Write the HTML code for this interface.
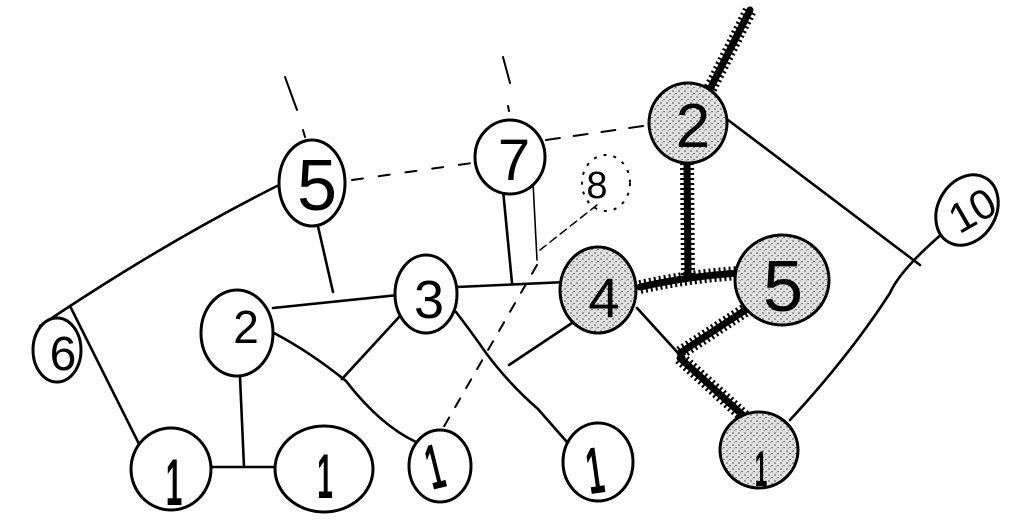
<!DOCTYPE html>
<html><head><meta charset="utf-8"><style>
html,body{margin:0;padding:0;background:#fff;}
svg{display:block;}
text{font-family:"Liberation Sans",sans-serif;fill:#000;text-anchor:middle;}
</style></head><body>
<svg width="1023" height="529" viewBox="0 0 1023 529" xmlns="http://www.w3.org/2000/svg">
<defs>
<pattern id="st" width="6" height="6" patternUnits="userSpaceOnUse">
<rect width="6" height="6" fill="#e2e2e2"/>
<circle cx="1" cy="1" r="0.8" fill="#444"/>
<circle cx="4" cy="3.6" r="0.7" fill="#555"/>
<circle cx="2.2" cy="4.8" r="0.5" fill="#777"/>
</pattern>
</defs>
<rect width="1023" height="529" fill="#fff"/>

<!-- thin solid edges -->
<g fill="none" stroke="#000" stroke-width="2.6" stroke-linecap="round">
<path d="M277,186 Q160,245 40,326"/>
<path d="M70,306 L139,444"/>
<path d="M317,222 L333,292"/>
<path d="M273,308 L398,295"/>
<path d="M240,377 L244,467"/>
<path d="M211,467 L275,467"/>
<path d="M274,333 Q310,352 346,381 Q380,425 416,442"/>
<path d="M400,316 L342,379"/>
<path d="M456,312 Q470,330 486,353 Q510,385 538,409 Q558,432 575,451"/>
<path d="M572,323 L509,365"/>
<path d="M457,287 L566,282"/>
<path d="M503,190 L512,283"/>
<path d="M637,308 L678,353"/>
<path d="M728,120 L920,265"/>
<path d="M943,233 Q900,270 890,293 Q850,355 790,420"/>
</g>

<!-- dashed edges -->
<g fill="none" stroke="#000" stroke-width="2" stroke-linecap="round">
<path d="M352,180 L472,163" stroke-dasharray="11 16"/>
<path d="M546,140 L650,125" stroke-dasharray="14 14"/>
<path d="M285,77 L297,110"/>
<path d="M303,130 L305,137"/>
<path d="M503,57 L510,83"/>
<path d="M508,106 L509,111"/>
<path d="M533,182 L537,260" stroke-width="1.6"/>
<path d="M537,265 L442,430" stroke-dasharray="10 12"/>
<path d="M597,205 L540,250" stroke-width="1.5" stroke-dasharray="8 5"/>
</g>

<!-- thick fuzzy edges -->
<g fill="none" stroke="#000" stroke-linecap="round">
<g stroke-width="7">
<path d="M708,93 L750,10"/>
<path d="M687,163 L688,277"/>
<path d="M640,287 Q690,276 740,273"/>
<path d="M753,305 L680,353"/>
<path d="M680,358 L748,420"/>
</g>
<g stroke-width="14" stroke-dasharray="2 3" stroke-linecap="butt">
<path d="M708,93 L750,10"/>
<path d="M687,163 L688,277"/>
<path d="M640,287 Q690,276 740,273"/>
<path d="M753,305 L680,353"/>
<path d="M680,358 L748,420"/>
</g>
</g>

<!-- nodes -->
<g stroke="#000" stroke-width="3" fill="#fff">
<ellipse cx="57" cy="350" rx="24" ry="32"/>
<ellipse cx="312" cy="183" rx="33" ry="43"/>
<ellipse cx="237" cy="333" rx="36" ry="43"/>
<ellipse cx="510" cy="157" rx="35" ry="37"/>
<ellipse cx="426" cy="294" rx="31" ry="39"/>
<ellipse cx="171" cy="469" rx="40" ry="41"/>
<ellipse cx="324" cy="469" rx="49" ry="43"/>
<ellipse cx="440" cy="466" rx="31" ry="36"/>
<ellipse cx="598" cy="462" rx="35" ry="39"/>
<ellipse cx="967" cy="210" rx="29" ry="37" transform="rotate(30 967 210)"/>
<ellipse cx="598" cy="290" rx="38" ry="43" fill="url(#st)"/>
<ellipse cx="688" cy="123" rx="39" ry="40" fill="url(#st)"/>
<ellipse cx="782" cy="280" rx="47" ry="45" fill="url(#st)"/>
<ellipse cx="759" cy="450" rx="39" ry="38" fill="url(#st)"/>
</g>
<ellipse cx="606" cy="183" rx="24" ry="28" fill="none" stroke="#000" stroke-width="2" stroke-dasharray="3 7"/>

<!-- labels -->
<text x="63" y="370" font-size="48">6</text>
<text x="317" y="210" font-size="72">5</text>
<text x="246" y="343" font-size="46">2</text>
<text x="514" y="180" font-size="58">7</text>
<text x="429" y="318" font-size="54">3</text>
<text x="604" y="317" font-size="56">4</text>
<text x="693" y="147" font-size="62">2</text>
<text x="783" y="311" font-size="72">5</text>
<text x="597" y="198" font-size="38">8</text>
<text x="972" y="225" font-size="42" transform="rotate(-30 972 210)">10</text>
<g font-weight="bold">
<text font-size="66" transform="translate(174,505) scale(0.45,1)">1</text>
<text font-size="63" transform="translate(325,498) scale(0.45,1)">1</text>
<text font-size="64" transform="translate(440,488) rotate(-14) scale(0.45,1)">1</text>
<text font-size="66" transform="translate(598,493) rotate(-8) scale(0.45,1)">1</text>
<text font-size="50" transform="translate(761,486) scale(0.45,1)">1</text>
</g>
</svg>
</body></html>
